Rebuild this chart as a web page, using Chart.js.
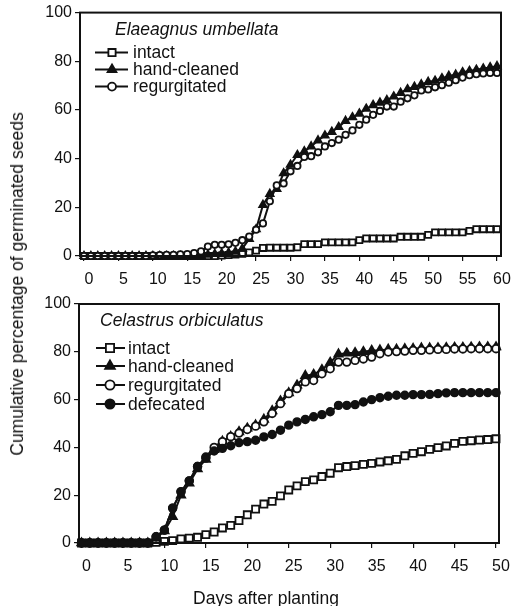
<!DOCTYPE html>
<html>
<head>
<meta charset="utf-8">
<script src="https://cdn.jsdelivr.net/npm/chart.js@4.4.1/dist/chart.umd.min.js"></script>
<style>
  body { margin: 0; background: #fff; width: 516px; height: 606px; position: relative; overflow: hidden;
         font-family: "Liberation Sans", Arial, sans-serif; color: #111; }
  .box { position: absolute; left: 0; width: 516px; }
  #topBox { top: 0; height: 300px; }
  #botBox { top: 290px; height: 316px; }
  .ytitle { position: absolute; left: 17px; top: 284px; transform: translate(-50%, -50%) rotate(-90deg);
            white-space: nowrap; font-size: 17.5px; line-height: 20px; }
  .xtitle { position: absolute; left: 266px; top: 588px; transform: translateX(-50%);
            white-space: nowrap; font-size: 17.5px; line-height: 20px; }
</style>
</head>
<body>
<div class="box" id="topBox"><canvas id="topChart"></canvas></div>
<div class="box" id="botBox"><canvas id="botChart"></canvas></div>
<div class="ytitle">Cumulative percentage of germinated seeds</div>
<div class="xtitle">Days after planting</div>
<script>
// Elaeagnus umbellata, days 0..60
const topDays = [0,1,2,3,4,5,6,7,8,9,10,11,12,13,14,15,16,17,18,19,20,21,22,23,24,25,26,27,28,29,30,
  31,32,33,34,35,36,37,38,39,40,41,42,43,44,45,46,47,48,49,50,51,52,53,54,55,56,57,58,59,60];
const euIntact = [0,0,0,0,0,0,0,0,0,0, 0,0,0,0,0,0,0,0,0,0,
  0.2,0.4,0.6,0.9,1.5,2.2,3.3,3.4,3.4,3.4,
  3.4,3.6,4.9,4.9,4.9,5.6,5.6,5.6,5.6,5.6,
  6.5,7.2,7.2,7.2,7.2,7.2,7.9,7.9,7.9,7.9,
  8.7,9.7,9.7,9.7,9.7,9.7,10.3,11,11,11, 11];
const euHandCleaned = [0,0,0,0,0,0,0,0,0,0, 0,0,0,0,0,0,0,0,0.5,0.8,
  1,1.3,1.8,3,7,11,21,25.5,27.5,34,
  37.5,41.5,43,45,47.5,49.5,51,53,55.5,57,
  58.5,60.5,62,63,64,65.5,67,68.5,69.5,70.5,
  71.5,72,73,74,74.5,75.5,76,76.5,77,77.5, 78];
const euRegurgitated = [0,0,0,0,0,0,0,0,0,0, 0.3,0.4,0.5,0.5,0.7,0.8,1.2,1.9,3.9,4.6,
  4.6,4.8,5.4,6.5,8,10.8,13.4,22.5,29,29.8,
  34.8,37,40.7,41,42.6,45,46.4,47.8,49.8,51.6,
  53.9,56,58,59.6,61.4,61.4,63.4,64.8,66,68,
  68.4,69.3,70.2,71.2,72.2,73.3,74.3,74.7,75,75.2, 75.2];
const topXTicks = [0,5,10,15,20,25,30,35,40,45,50,55,60];

// Celastrus orbiculatus, days 0..50
const botDays = [0,1,2,3,4,5,6,7,8,9,10,11,12,13,14,15,16,17,18,19,20,21,22,23,24,25,
  26,27,28,29,30,31,32,33,34,35,36,37,38,39,40,41,42,43,44,45,46,47,48,49,50];
const coIntact = [0,0,0,0,0,0,0,0,0,0.3,
  0.7,1,1.7,2,2.4,3.5,4.6,6.3,7.4,9.4,
  11.8,14.2,16.3,17.4,19.7,22.2,23.9,25.7,26.4,27.8,
  29.2,31.5,32,32.4,32.9,33.3,33.9,34.4,35,36.5,
  37.5,38.2,39.2,39.9,40.6,41.7,42.5,42.8,43.1,43.3, 43.6];
const coHandCleaned = [0,0,0,0,0,0,0,0,0,2,
  5,11,20,25,31,35,39,42.5,44.5,46.5,
  48,49.3,51.7,55.3,59.4,62.8,66,70,70.5,72.5,
  75.5,79,79.4,79.6,80,80.5,80.7,81,81,81.2,
  81.3,81.5,81.5,81.6,81.7,81.8,81.8,81.9,82,82, 82];
const coRegurgitated = [0,0,0,0,0,0,0,0,0,2.6,
  5.4,14.6,21.4,26,32,36,40,42.4,44.5,46,
  47.5,48.9,50.7,54.2,58.3,62.5,64.6,67.4,68,70.8,
  72.9,75.7,75.7,76.4,77,77.8,79.2,79.9,80.1,80.3,
  80.6,80.6,80.8,81,81,81.2,81.2,81.3,81.3,81.3, 81.3];
const coDefecated = [0,0,0,0,0,0,0,0,0,2.6,
  5.4,14.6,21.5,26,32,35.5,38.5,39.6,40.7,42,
  42.4,43,44.4,45.4,47.2,49.3,50.7,51.7,52.8,53.7,
  54.9,57.6,57.6,57.9,59,60,60.8,61.4,61.8,61.8,
  62.1,62.1,62.2,62.5,62.8,62.9,62.9,62.9,62.9,62.9, 62.9];
const botXTicks = [0,5,10,15,20,25,30,35,40,45,50];

const yTicks = [0,20,40,60,80,100];

const INK = '#111';
const FONT = '"Liberation Sans", Arial, sans-serif';
Chart.defaults.font.family = FONT;
Chart.defaults.color = INK;

function series(label, values, days, style, radius, fill, order) {
  return {
    label: label,
    data: values.map((v, i) => ({ x: days[i], y: v })),
    borderColor: INK,
    borderWidth: 2,
    pointStyle: style,
    pointRadius: radius,
    pointHoverRadius: radius,
    pointBackgroundColor: fill,
    pointBorderColor: INK,
    pointBorderWidth: 1.8,
    clip: false,
    order: order
  };
}

// frame round the plot, italic species name and the line+marker legend
const framePlugin = {
  id: 'frame',
  afterDraw(chart, args, o) {
    const ctx = chart.ctx, a = chart.chartArea;
    ctx.save();
    ctx.strokeStyle = INK;
    ctx.lineWidth = 2;
    ctx.strokeRect(a.left, a.top, a.right - a.left, a.bottom - a.top);
    ctx.fillStyle = INK;
    ctx.textBaseline = 'middle';
    ctx.textAlign = 'left';
    ctx.font = 'italic 17.5px ' + FONT;
    ctx.fillText(o.title, a.left + o.titleX, a.top + o.titleY);
    ctx.font = '17.5px ' + FONT;
    chart.data.datasets.forEach((ds, i) => {
      const y = a.top + o.rows[i];
      ctx.strokeStyle = INK;
      ctx.lineWidth = 2;
      ctx.beginPath();
      ctx.moveTo(a.left + o.lineX[0], y);
      ctx.lineTo(a.left + o.lineX[1], y);
      ctx.stroke();
      ctx.fillStyle = ds.pointBackgroundColor;
      ctx.lineWidth = 1.8;
      Chart.helpers.drawPoint(ctx, { pointStyle: ds.pointStyle, radius: ds.pointRadius + 0.8, rotation: 0, borderWidth: 1.8 },
        a.left + o.markX, y);
      ctx.fillStyle = INK;
      ctx.fillText(ds.label, a.left + o.textX, y + 1);
    });
    ctx.restore();
  }
};

function makeChart(id, datasets, xr, xTicks, yWidth, xHeight, pad, frame) {
  return new Chart(document.getElementById(id), {
    type: 'line',
    data: { datasets: datasets },
    plugins: [framePlugin],
    options: {
      responsive: true,
      maintainAspectRatio: false,
      animation: false,
      events: [],
      layout: { padding: pad },
      plugins: { legend: { display: false }, tooltip: { enabled: false }, frame: frame },
      scales: {
        x: {
          type: 'linear', min: xr[0], max: xr[1],
          afterBuildTicks: s => { s.ticks = xTicks.map(v => ({ value: v })); },
          afterFit: s => { s.height = xHeight; },
          grid: { drawOnChartArea: false, tickLength: 5, color: INK, lineWidth: 1.2 },
          border: { color: INK, width: 2 },
          ticks: { font: { size: 16 }, color: INK, padding: 9, labelOffset: 5, maxRotation: 0, autoSkip: false }
        },
        y: {
          min: 0, max: 100,
          afterBuildTicks: s => { s.ticks = yTicks.map(v => ({ value: v })); },
          afterFit: s => { s.width = yWidth; },
          grid: { drawOnChartArea: false, tickLength: 5, color: INK, lineWidth: 1.2 },
          border: { color: INK, width: 2 },
          ticks: { font: { size: 16 }, color: INK, padding: 3 }
        }
      }
    }
  });
}

makeChart('topChart', [
  series('intact', euIntact, topDays, 'rect', 4.3, '#fff', 2),
  series('hand-cleaned', euHandCleaned, topDays, 'triangle', 4.3, INK, 1),
  series('regurgitated', euRegurgitated, topDays, 'circle', 3.2, '#fff', 0)
], [-0.58, 60.58], topXTicks, 80, 44, { top: 12, right: 15, left: 0, bottom: 0 },
  { title: 'Elaeagnus umbellata', titleX: 35, titleY: 18, lineX: [15, 48], markX: 32, textX: 53, rows: [40, 57, 74] });

makeChart('botChart', [
  series('intact', coIntact, botDays, 'rect', 5, '#fff', 3),
  series('hand-cleaned', coHandCleaned, botDays, 'triangle', 4.8, INK, 2),
  series('regurgitated', coRegurgitated, botDays, 'circle', 3.8, '#fff', 1),
  series('defecated', coDefecated, botDays, 'circle', 3.8, INK, 0)
], [-0.3, 50.36], botXTicks, 79, 63, { top: 14, right: 17, left: 0, bottom: 0 },
  { title: 'Celastrus orbiculatus', titleX: 21, titleY: 17, lineX: [17, 46], markX: 31, textX: 49, rows: [44, 62, 81, 100] });
</script>
</body>
</html>
